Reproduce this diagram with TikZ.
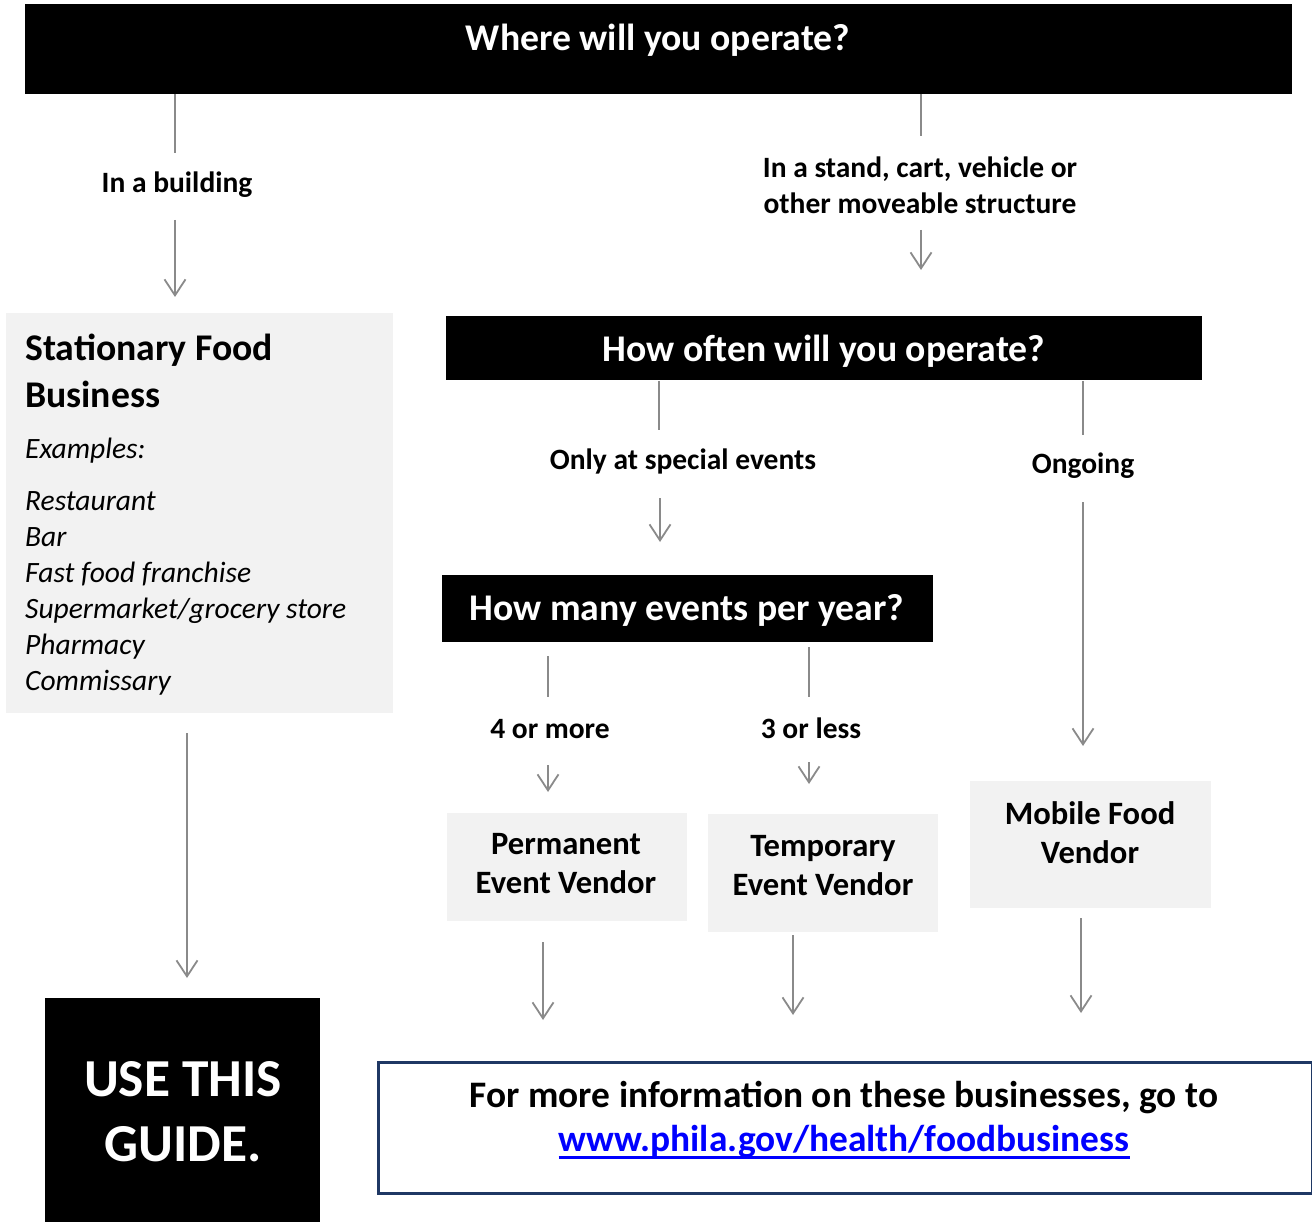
\documentclass[tikz,border=0pt]{standalone}
\usepackage{fontspec}
\setmainfont{Carlito}
\usetikzlibrary{arrows.meta}
\definecolor{boxgray}{HTML}{F2F2F2}
\definecolor{argray}{HTML}{8A8A8A}
\definecolor{navy}{HTML}{1F3864}
\definecolor{linkblue}{HTML}{0000FF}
\newcommand\szTitle{\fontsize{37.7}{46}\selectfont\bfseries}
\newcommand\szInfo{\fontsize{37.4}{46}\selectfont\bfseries}
\newcommand\szLbl{\fontsize{29.5}{36}\selectfont\bfseries}
\newcommand\szList{\fontsize{29.5}{36}\selectfont\itshape}
\newcommand\szVen{\fontsize{32.6}{39}\selectfont\bfseries}
\newcommand\szBig{\fontsize{53.4}{64}\selectfont\bfseries}
\begin{document}
\begin{tikzpicture}[x=1pt,y=-1pt,
  bar/.style={fill=black, inner sep=0pt, anchor=north west},
  gbox/.style={fill=boxgray, inner sep=0pt, anchor=north west},
  wtext/.style={text=white, inner sep=0pt, align=center},
  lbl/.style={inner sep=0pt, align=center, font=\szLbl},
  ven/.style={inner sep=0pt, align=center, font=\szVen},
  seg/.style={draw=argray, line width=1.8pt},
  arr/.style={draw=argray, line width=1.8pt, -{Straight Barb[length=16pt,width=21pt]}}
]
\useasboundingbox (0,0) rectangle (1312,1222);

% top question
\node[bar, minimum width=1267, minimum height=90] (q1) at (25,4) {};
\node[wtext, font=\szTitle] (q1t) at (658,40.5) {Where will you operate?};

% left branch
\node[lbl] (inb) at (177,185) {In a building};
\coordinate (l1a) at (175,94);  \coordinate (l1b) at (175,153);
\coordinate (l2a) at (175,220); \coordinate (l2b) at (175,297);
\draw[seg] (l1a) -- (l1b);
\draw[arr] (l2a) -- (l2b);

% stationary box
\node[gbox, minimum width=387, minimum height=400] (stat) at (6,313) {};
\node[inner sep=0pt, anchor=west, align=left, font=\szTitle] (statt) at (25,371) {Stationary Food\\[1pt]Business};
\node[inner sep=0pt, anchor=west, font=\szList] (ex) at (25,451) {Examples:};
\node[inner sep=0pt, anchor=north west, align=left, font=\szList] (list) at (25,491) {Restaurant\\Bar\\Fast food franchise\\Supermarket/grocery store\\Pharmacy\\Commissary};

\coordinate (l3a) at (187,733); \coordinate (l3b) at (187,978);
\draw[arr] (l3a) -- (l3b);

% use this guide
\node[bar, minimum width=275, minimum height=230] (use) at (45,998) {};
\node[wtext, font=\szBig] (uset) at (183,1112) {USE THIS\\[1pt]GUIDE.};

% right branch
\node[lbl] (stand) at (920,185) {In a stand, cart, vehicle or\\other moveable structure};
\coordinate (r1a) at (921,94);  \coordinate (r1b) at (921,136);
\coordinate (r2a) at (921,230); \coordinate (r2b) at (921,270);
\draw[seg] (r1a) -- (r1b);
\draw[arr] (r2a) -- (r2b);

\node[bar, minimum width=756, minimum height=64] (q2) at (446,316) {};
\node[wtext, font=\szTitle] (q2t) at (824,351.5) {How often will you operate?};

\node[lbl] (spec) at (683,461) {Only at special events};
\coordinate (s1a) at (659,381); \coordinate (s1b) at (659,430);
\coordinate (s2a) at (660,498); \coordinate (s2b) at (660,542);
\draw[seg] (s1a) -- (s1b);
\draw[arr] (s2a) -- (s2b);

\node[lbl] (ong) at (1083,466) {Ongoing};
\coordinate (o1a) at (1083,381); \coordinate (o1b) at (1083,435);
\coordinate (o2a) at (1083,502); \coordinate (o2b) at (1083,746);
\draw[seg] (o1a) -- (o1b);
\draw[arr] (o2a) -- (o2b);

\node[bar, minimum width=491, minimum height=67] (q3) at (442,575) {};
\node[wtext, font=\szTitle] (q3t) at (687,610.5) {How many events per year?};

\node[lbl] (four) at (550,729) {4 or more};
\coordinate (f1a) at (548,656); \coordinate (f1b) at (548,697);
\coordinate (f2a) at (548,765); \coordinate (f2b) at (548,792);
\draw[seg] (f1a) -- (f1b);
\draw[arr] (f2a) -- (f2b);

\node[lbl] (three) at (811,728) {3 or less};
\coordinate (t1a) at (809,647); \coordinate (t1b) at (809,697);
\coordinate (t2a) at (809,762); \coordinate (t2b) at (809,784);
\draw[seg] (t1a) -- (t1b);
\draw[arr] (t2a) -- (t2b);

% vendor boxes
\node[gbox, minimum width=240, minimum height=108] (perm) at (447,813) {};
\node[ven] (permt) at (566,864) {Permanent\\Event Vendor};
\node[gbox, minimum width=230, minimum height=118] (temp) at (708,814) {};
\node[ven] (tempt) at (823,866) {Temporary\\Event Vendor};
\node[gbox, minimum width=241, minimum height=127] (mob) at (970,781) {};
\node[ven] (mobt) at (1090,833) {Mobile Food\\Vendor};

\coordinate (p1a) at (543,942);  \coordinate (p1b) at (543,1020);
\coordinate (m1a) at (793,935);  \coordinate (m1b) at (793,1015);
\coordinate (v1a) at (1081,918); \coordinate (v1b) at (1081,1013);
\draw[arr] (p1a) -- (p1b);
\draw[arr] (m1a) -- (m1b);
\draw[arr] (v1a) -- (v1b);

% info box
\node[draw=navy, line width=2.5pt, fill=white, inner sep=0pt, anchor=north west, minimum width=934, minimum height=131] (info) at (377,1061) {};
\node[inner sep=0pt, anchor=base, font=\szInfo] (infot) at (844,1107) {For more information on these businesses, go to};
\node[inner sep=0pt, anchor=base, font=\szInfo, text=linkblue] (link) at (844,1151) {www.phila.gov/health/foodbusiness};
\draw[linkblue, line width=3pt] ([yshift=-6pt]link.base west) -- ([yshift=-6pt]link.base east);
\end{tikzpicture}
\end{document}
